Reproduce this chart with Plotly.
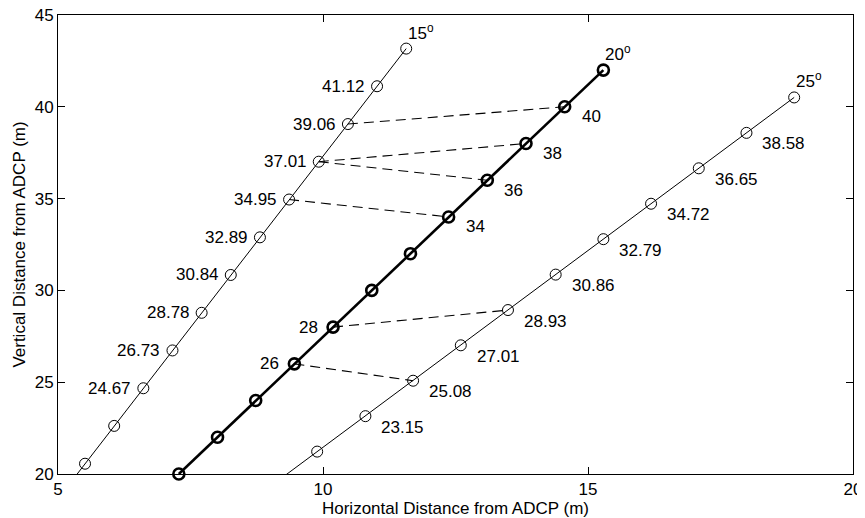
import plotly.graph_objects as go

# 15 degree beam (vertical values are the point labels)
b15_y = [20.56, 22.62, 24.67, 26.73, 28.78, 30.84, 32.89, 34.95, 37.01, 39.06, 41.12, 43.17]
b15_x = [5.51, 6.06, 6.61, 7.16, 7.71, 8.26, 8.81, 9.36, 9.92, 10.47, 11.02, 11.57]
b15_ext_y = [18.50]
b15_ext_x = [4.96]

# 20 degree beam
b20_y = [20, 22, 24, 26, 28, 30, 32, 34, 36, 38, 40, 42]
b20_x = [7.28, 8.01, 8.73, 9.46, 10.19, 10.92, 11.65, 12.37, 13.10, 13.83, 14.56, 15.29]

# 25 degree beam
b25_y = [21.22, 23.15, 25.08, 27.01, 28.93, 30.86, 32.79, 34.72, 36.65, 38.58, 40.51]
b25_x = [9.89, 10.80, 11.70, 12.60, 13.49, 14.39, 15.29, 16.19, 17.09, 17.99, 18.89]
b25_ext_y = [19.29]
b25_ext_x = [8.99]

# labelled points
b15_labels = ["24.67", "26.73", "28.78", "30.84", "32.89", "34.95", "37.01", "39.06", "41.12"]
b20_labels_right = ["34", "36", "38", "40"]
b20_labels_left = ["26", "28"]
b25_labels = ["23.15", "25.08", "27.01", "28.93", "30.86", "32.79", "34.72", "36.65", "38.58"]
angle_labels = ["15", "20", "25"]

# dashed links: (from beam, from value) -> (to beam, to value)
links = [
    ("15", 39.06, "20", 40), ("15", 37.01, "20", 38), ("15", 37.01, "20", 36),
    ("15", 34.95, "20", 34), ("20", 28, "25", 28.93), ("20", 26, "25", 25.08),
]

beams = {"15": (b15_x, b15_y), "20": (b20_x, b20_y), "25": (b25_x, b25_y)}

def pos(beam, val):
    xs, ys = beams[beam]
    i = min(range(len(ys)), key=lambda k: abs(ys[k] - val))
    return xs[i], ys[i]

fig = go.Figure()

# dashed links
for b1, v1, b2, v2 in links:
    x1, y1 = pos(b1, v1)
    x2, y2 = pos(b2, v2)
    fig.add_trace(go.Scatter(x=[x1, x2], y=[y1, y2], mode="lines",
                             line=dict(color="black", width=1.1, dash="10px,6px"),
                             hoverinfo="skip", showlegend=False))

# beam lines (extended below the axis, clipped)
fig.add_trace(go.Scatter(x=b15_ext_x + b15_x, y=b15_ext_y + b15_y, mode="lines",
                         line=dict(color="black", width=1), showlegend=False))
fig.add_trace(go.Scatter(x=b20_x, y=b20_y, mode="lines",
                         line=dict(color="black", width=2.6), showlegend=False))
fig.add_trace(go.Scatter(x=b25_ext_x + b25_x, y=b25_ext_y + b25_y, mode="lines",
                         line=dict(color="black", width=1), showlegend=False))

# markers
fig.add_trace(go.Scatter(x=b15_x, y=b15_y, mode="markers", cliponaxis=False,
                         marker=dict(symbol="circle-open", size=11, color="black",
                                     line=dict(width=1, color="black")), showlegend=False))
fig.add_trace(go.Scatter(x=b20_x, y=b20_y, mode="markers", cliponaxis=False,
                         marker=dict(symbol="circle-open", size=11, color="black",
                                     line=dict(width=2.6, color="black")), showlegend=False))
fig.add_trace(go.Scatter(x=b25_x, y=b25_y, mode="markers", cliponaxis=False,
                         marker=dict(symbol="circle-open", size=11, color="black",
                                     line=dict(width=1, color="black")), showlegend=False))

font = dict(family="Liberation Sans, Arial, sans-serif", size=17, color="black")
ann = []
for t in b15_labels:
    x, y = pos("15", float(t))
    ann.append(dict(x=x, y=y, text=t, xanchor="right", yanchor="middle", xshift=-10, showarrow=False, font=font))
for t in b20_labels_right:
    x, y = pos("20", float(t))
    ann.append(dict(x=x, y=y, text=t, xanchor="left", yanchor="middle", xshift=15, yshift=-10, showarrow=False, font=font))
for t in b20_labels_left:
    x, y = pos("20", float(t))
    ann.append(dict(x=x, y=y, text=t, xanchor="right", yanchor="middle", xshift=-13, showarrow=False, font=font))
for t in b25_labels:
    x, y = pos("25", float(t))
    ann.append(dict(x=x, y=y, text=t, xanchor="left", yanchor="middle", xshift=14, yshift=-11, showarrow=False, font=font))
tops = {"15": (b15_x[-1], b15_y[-1]), "20": (b20_x[-1], b20_y[-1]), "25": (b25_x[-1], b25_y[-1])}
for a in angle_labels:
    x, y = tops[a]
    ann.append(dict(x=x, y=y, text=a + "<sup>o</sup>", xanchor="left", yanchor="bottom", xshift=0, yshift=4, showarrow=False, font=font))

axis_common = dict(showgrid=False, zeroline=False, showline=True, linecolor="black", linewidth=1,
                   mirror="ticks", ticks="inside", ticklen=7, tickcolor="black", tickwidth=1,
                   tickfont=font, automargin=False, ticklabeloverflow="allow")

fig.update_layout(
    width=857, height=510,
    margin=dict(l=50, r=12, t=7, b=44),
    plot_bgcolor="white", paper_bgcolor="white",
    annotations=ann,
    xaxis=dict(range=[5, 20], tickvals=[5, 10, 15, 20],
               title=dict(text="Horizontal Distance from ADCP (m)", font=font, standoff=0), **axis_common),
    yaxis=dict(range=[20, 45], tickvals=[20, 25, 30, 35, 40, 45],
               title=dict(text="Vertical Distance from ADCP (m)", font=font, standoff=4), **axis_common),
)

fig.write_html("out.html")
